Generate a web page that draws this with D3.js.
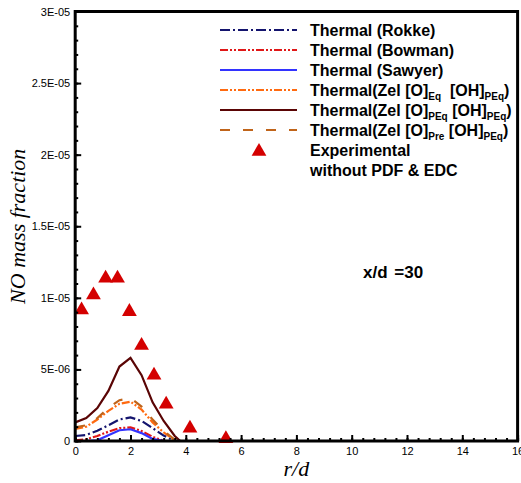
<!DOCTYPE html>
<html><head><meta charset="utf-8">
<script src="https://cdn.jsdelivr.net/npm/d3@7"></script>
<style>
body{margin:0;background:#fff;}
text{font-family:"Liberation Sans",Arial,sans-serif;}
</style></head>
<body><svg id="c" width="521" height="483"></svg>
<script>
// ---- data ----
const rGrid = [0, 0.4, 0.8, 1.2, 1.6, 2.0, 2.4, 2.8, 3.2, 3.6, 3.8];
const rokke   = [0.35, 0.42, 0.72, 1.1, 1.5, 1.65, 1.4, 0.9, 0.38, 0.0, 0.0];
const bowman  = [0.05, 0.12, 0.35, 0.65, 0.9, 0.95, 0.7, 0.3, 0.0, 0.0, 0.0];
const sawyer  = [0.0, 0.0, 0.05, 0.4, 0.75, 0.82, 0.55, 0.15, 0.0, 0.0, 0.0];
const zelEq   = [0.85, 1.0, 1.5, 2.1, 2.6, 2.75, 2.2, 1.3, 0.6, 0.05, 0.0];
const zelPEq  = [1.3, 1.6, 2.3, 3.5, 5.2, 5.8, 4.6, 2.7, 1.4, 0.35, 0.0];
const zelPre  = [0.95, 1.1, 1.6, 2.3, 2.85, 3.0, 2.4, 1.5, 0.7, 0.1, 0.0];
const expR    = [0.23, 0.66, 1.10, 1.53, 1.96, 2.40, 2.85, 3.29, 4.15, 5.45];
const expV    = [9.25, 10.3, 11.47, 11.47, 9.14, 6.77, 4.7, 2.67, 1.0, 0.26];
const yTickVals = [0, 5e-6, 1e-5, 1.5e-5, 2e-5, 2.5e-5, 3e-5];
const yTickLabels = ["0", "5E-06", "1E-05", "1.5E-05", "2E-05", "2.5E-05", "3E-05"];
const xTickVals = [0, 2, 4, 6, 8, 10, 12, 14, 16];

const series = [
  {name:"Thermal (Rokke)", v:rokke, color:"#14146e", dash:"10,3,2,3"},
  {name:"Thermal (Bowman)", v:bowman, color:"#e01818", dash:"8,2,2,2,2,2"},
  {name:"Thermal (Sawyer)", v:sawyer, color:"#3333ff", dash:null},
  {name:"zelEq", v:zelEq, color:"#ff6a10", dash:"8,2,2,2,2,2"},
  {name:"zelPEq", v:zelPEq, color:"#5a0505", dash:null},
  {name:"zelPre", v:zelPre, color:"#c0641a", dash:"10,13"}
];

const svg = d3.select("#c");
const L=75.2, R=517.6, T=11.5, B=441;
const x = d3.scaleLinear().domain([0,16]).range([L,R]);
const y = d3.scaleLinear().domain([0,3e-5]).range([B,T]);

svg.append("clipPath").attr("id","clip").append("rect")
  .attr("x",L).attr("y",T).attr("width",R-L).attr("height",B-T);

const line = d3.line().x(d=>x(d[0])).y(d=>y(d[1]*1e-6));
const gL = svg.append("g").attr("clip-path","url(#clip)");
series.forEach(s=>{
  gL.append("path").datum(rGrid.map((r,i)=>[r,s.v[i]]))
    .attr("d",line).attr("fill","none").attr("stroke",s.color)
    .attr("stroke-width",2.2).attr("stroke-dasharray",s.dash);
});

// triangles
const tri = d3.symbol().type(d3.symbolTriangle).size(95);
svg.append("g").selectAll("path").data(expR.map((r,i)=>[r,expV[i]]))
  .join("path").attr("d",tri)
  .attr("transform",d=>`translate(${x(d[0])},${y(d[1]*1e-6)+1.5})`)
  .attr("fill","#d40000");

// axes
const yAx = svg.append("g").attr("transform",`translate(${L},0)`)
  .call(d3.axisLeft(y).tickValues(yTickVals).tickSize(-6).tickPadding(5)
    .tickFormat((d,i)=>yTickLabels[i]));
const yMin = svg.append("g").attr("transform",`translate(${L},0)`)
  .call(d3.axisLeft(y).tickValues(d3.range(0,31).map(i=>i*1e-6)).tickSize(-3).tickFormat(""));
const xAx = svg.append("g").attr("transform",`translate(0,${B})`)
  .call(d3.axisBottom(x).tickValues(xTickVals).tickSize(-6).tickPadding(6).tickFormat(d3.format("d")));
const xMin = svg.append("g").attr("transform",`translate(0,${B})`)
  .call(d3.axisBottom(x).tickValues(d3.range(0,41).map(i=>i*0.4)).tickSize(-3).tickFormat(""));
[yAx,yMin,xAx,xMin].forEach(g=>{
  g.select(".domain").remove();
  g.selectAll(".tick line").attr("stroke","#000").attr("stroke-width",2);
  g.selectAll("text").attr("font-size",11).attr("fill","#000")
   .style("font-family","'Liberation Sans',Arial,sans-serif");
});

svg.append("rect").attr("x",L).attr("y",T).attr("width",R-L).attr("height",B-T)
  .attr("fill","none").attr("stroke","#000").attr("stroke-width",3);

// axis titles
svg.append("text").attr("transform",`translate(25,${(T+B)/2}) rotate(-90)`)
  .attr("text-anchor","middle").style("font-family","'Liberation Serif','Times New Roman',serif")
  .style("font-style","italic").attr("font-size",22).text("NO mass fraction");
svg.append("text").attr("x",(L+R)/2).attr("y",476)
  .attr("text-anchor","middle").style("font-family","'Liberation Serif','Times New Roman',serif")
  .style("font-style","italic").attr("font-size",22).text("r/d");

// annotation
svg.append("text").attr("x",363).attr("y",278).attr("font-size",17)
  .attr("font-weight","bold").attr("word-spacing",2).text("x/d =30");

// legend
const lg = svg.append("g");
const legendRows = [
  [["Thermal (Rokke)"]],
  [["Thermal (Bowman)"]],
  [["Thermal (Sawyer)"]],
  [["Thermal(Zel [O]"],["Eq",1],["  [OH]"],["PEq",1],[")"]],
  [["Thermal(Zel [O]"],["PEq",1],[" [OH]"],["PEq",1],[")"]],
  [["Thermal(Zel [O]"],["Pre",1],[" [OH]"],["PEq",1],[")"]]
];
series.forEach((s,i)=>{
  const ly = 30 + i*20;
  lg.append("line").attr("x1",220).attr("x2",297).attr("y1",ly).attr("y2",ly)
    .attr("stroke",s.color).attr("stroke-width",2.2).attr("stroke-dasharray",s.dash);
  const t = lg.append("text").attr("x",310).attr("y",ly+6).attr("font-size",16)
    .attr("font-weight","bold").attr("xml:space","preserve").style("white-space","pre");
  legendRows[i].forEach(p=>{
    if(p[1]) t.append("tspan").attr("font-size",10).attr("dy",4).text(p[0]);
    else {
      const ts = t.append("tspan").text(p[0]);
      if(t.selectAll("tspan").size()>1) ts.attr("dy",-4);
    }
  });
});
lg.append("path").attr("d",tri).attr("transform","translate(259,151.5)").attr("fill","#d40000");
lg.append("text").attr("x",310).attr("y",156).attr("font-size",16).attr("font-weight","bold").text("Experimental");
lg.append("text").attr("x",310).attr("y",176).attr("font-size",16).attr("font-weight","bold").text("without PDF & EDC");
</script></body></html>
